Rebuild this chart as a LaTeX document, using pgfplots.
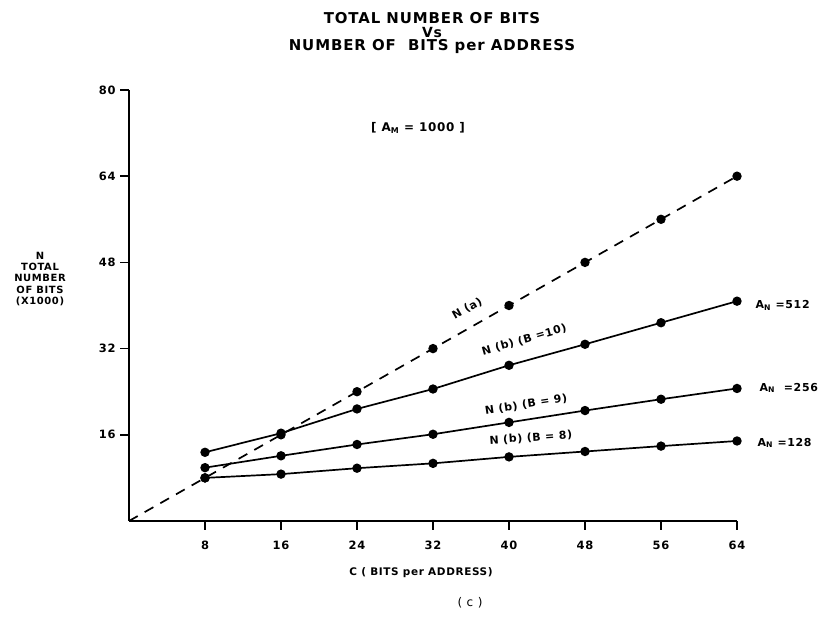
\documentclass[border=0pt]{standalone}
\usepackage{pgfplots}
\pgfplotsset{compat=1.18}
\usepackage{fontspec}
\setmainfont{DejaVu Sans}
\newfontfamily\lbl[LetterSpace=6]{DejaVu Sans}
\newfontfamily\ttl[LetterSpace=6]{DejaVu Sans}
\pgfplotstableread{
C   Na  B10   B9    B8
8   8   12.75 9.9   8.0
16  16  16.3  12.1  8.7
24  24  20.8  14.2  9.8
32  32  24.5  16.1  10.7
40  40  28.9  18.3  11.9
48  48  32.8  20.5  12.9
56  56  36.8  22.6  13.9
64  64  40.8  24.6  14.85
}\datatable
\begin{document}
\begin{tikzpicture}[x=1bp,y=1bp]
\useasboundingbox (0,0) rectangle (832,624);
\begin{axis}[
  at={(129bp,103bp)}, anchor=south west,
  scale only axis, width=608bp, height=431bp,
  xmin=0, xmax=64, ymin=0, ymax=80,
  axis lines*=left,
  axis line style={line width=2bp},
  xtick={8,16,24,32,40,48,56,64},
  ytick={16,32,48,64,80},
  tick align=outside,
  major tick length=9bp,
  tick style={line width=1.6bp, black},
  tick label style={font=\lbl\fontsize{11.5}{13}\selectfont\bfseries},
  /pgf/number format/assume math mode=true,
  xticklabel style={yshift=-7bp},
  yticklabel style={xshift=-1bp},
  clip=false,
  every axis plot/.append style={line width=1.7bp, black},
]
\addplot[dash pattern=on 10bp off 8bp, no marks] coordinates {(0,0) (64,64)};
\addplot[only marks, mark=*, mark size=3.8bp] table[x=C,y=Na] {\datatable};
\addplot[mark=*, mark size=3.8bp] table[x=C,y=B10] {\datatable};
\addplot[mark=*, mark size=3.8bp] table[x=C,y=B9] {\datatable};
\addplot[mark=*, mark size=3.8bp] table[x=C,y=B8] {\datatable};

\node[font=\lbl\fontsize{11}{13}\selectfont\bfseries, rotate=29.6] at (axis cs:35.6,39.4) {N (a)};
\node[font=\lbl\fontsize{11}{13}\selectfont\bfseries, rotate=15.9] at (axis cs:41.6,33.6) {N (b) (B =10)};
\node[font=\lbl\fontsize{11}{13}\selectfont\bfseries, rotate=8.5] at (axis cs:41.8,21.6) {N (b) (B = 9)};
\node[font=\lbl\fontsize{11}{13}\selectfont\bfseries, rotate=4] at (axis cs:42.3,15.4) {N (b) (B = 8)};

\node[font=\lbl\fontsize{11}{13}\selectfont\bfseries, anchor=west] at (axis cs:65.6,40.0) {A\textsubscript{N} =512};
\node[font=\lbl\fontsize{11}{13}\selectfont\bfseries, anchor=west] at (axis cs:66.0,24.7) {A\textsubscript{N} \ =256};
\node[font=\lbl\fontsize{11}{13}\selectfont\bfseries, anchor=west] at (axis cs:65.8,14.5) {A\textsubscript{N} =128};
\end{axis}
% titles and labels (absolute positions, y measured from bottom)
\node[font=\ttl\fontsize{15}{17}\selectfont\bfseries] at (432,606) {TOTAL NUMBER OF BITS};
\node[font=\ttl\fontsize{14}{17}\selectfont\bfseries] at (432,591) {Vs};
\node[font=\ttl\fontsize{15}{17}\selectfont\bfseries] at (432,577) {NUMBER OF\ \ BITS per ADDRESS};
\node[font=\lbl\fontsize{12}{14}\selectfont\bfseries] at (418,496) {[ A\textsubscript{M} = 1000 ]};
\node[font=\lbl\fontsize{10}{11.5}\selectfont\bfseries, align=center] at (40,345) {N\\TOTAL\\NUMBER\\OF BITS\\(X1000)};
\node[font=\lbl\fontsize{10.5}{12}\selectfont\bfseries] at (421,51) {C ( BITS per ADDRESS)};
\node[font=\lbl\fontsize{12}{14}\selectfont] at (470,21) {( c )};
\end{tikzpicture}
\end{document}
